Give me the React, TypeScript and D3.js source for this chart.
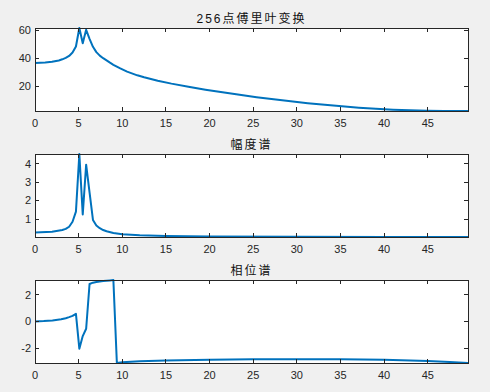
import React from "react";
import * as d3 from "d3";

// 256-point FFT, sampled at 100 Hz -> frequency axis 0 .. 49.61
const xMax = 49.61;
const xTicks = [0, 5, 10, 15, 20, 25, 30, 35, 40, 45];

// panel 1: 256点傅里叶变换
const fftFreq = [
  0, 1.17, 1.95, 2.73, 3.13, 3.52, 3.91, 4.3, 4.69, 5.08, 5.47, 5.86, 6.25,
  6.64, 7.03, 7.42, 7.81, 8.2, 8.59, 8.98, 9.77, 10.55, 11.72, 12.5, 14.06,
  15.63, 17.58, 19.53, 21.48, 23.44, 25.39, 27.34, 29.3, 31.25, 33.2, 35.16,
  37.11, 39.06, 41.02, 42.97, 44.92, 46.88, 49.61,
];
const fftVals = [
  36.8, 37.1, 37.6, 38.6, 39.4, 40.4, 41.8, 44.2, 48.5, 61.7, 50.8, 60.4, 54,
  48.3, 44.5, 42, 40.2, 38.6, 37, 35.5, 32.9, 30.6, 28.0, 26.6, 24.2, 22.1,
  19.9, 17.8, 15.9, 14.1, 12.4, 10.9, 9.5, 8.2, 7.0, 5.9, 4.95, 4.15, 3.5,
  3.05, 2.78, 2.65, 2.6,
];
const fftTicks = [20, 40, 60];

// panel 2: 幅度谱
const ampFreq = [
  0, 1.95, 3.13, 3.52, 3.91, 4.3, 4.69, 5.08, 5.47, 5.86, 6.25, 6.64, 7.03,
  7.42, 7.81, 8.2, 8.98, 10, 12, 15, 20, 30, 40, 49.61,
];
const ampVals = [
  0.27, 0.31, 0.4, 0.46, 0.58, 0.85, 1.4, 4.54, 1.25, 3.96, 2.45, 0.95, 0.65,
  0.5, 0.4, 0.33, 0.24, 0.17, 0.11, 0.07, 0.045, 0.03, 0.025, 0.02,
];
const ampTicks = [1, 2, 3, 4];

// panel 3: 相位谱
const phaseFreq = [
  0, 1, 2, 3, 3.52, 3.91, 4.3, 4.69, 5.08, 5.47, 5.86, 6.25, 6.64, 7.03, 7.81,
  8.59, 8.98, 9.38, 10, 12, 15, 20, 25, 30, 35, 40, 45, 47.5, 49.61,
];
const phaseVals = [
  0, 0.03, 0.08, 0.17, 0.25, 0.33, 0.42, 0.58, -2.05, -1.1, -0.55, 2.83, 2.93,
  2.98, 3.05, 3.1, 3.13, -3.13, -3.08, -3.0, -2.95, -2.89, -2.85, -2.84, -2.85,
  -2.89, -2.97, -3.05, -3.13,
];
const phaseTicks = [-2, 0, 2];

const W = 490;
const H = 392;
const left = 35;
const right = 468;
const plotH = 83;
const tickLen = 4;
const axisColor = "#262626";
const lineColor = "#0072BD";
const font = "'Liberation Sans', Arial, 'Noto Sans CJK SC', sans-serif";

const Panel = ({ id, title, top, freqs, values, yTicks }) => {
  const bottom = top + plotH;
  const x = d3.scaleLinear().domain([0, xMax]).range([left, right]);
  const y = d3.scaleLinear().domain(d3.extent(values)).range([bottom, top]);
  const line = d3
    .line()
    .x((d) => x(d[0]))
    .y((d) => y(d[1]));
  const pts = freqs.map((f, i) => [f, values[i]]);

  return (
    <g>
      <defs>
        <clipPath id={"clip" + id}>
          <rect x={left} y={top - 1} width={right - left} height={plotH + 2} />
        </clipPath>
      </defs>
      <rect x={left} y={top} width={right - left} height={plotH} fill="#fff" />
      <path
        d={line(pts)}
        fill="none"
        stroke={lineColor}
        strokeWidth={2}
        strokeLinejoin="round"
        clipPath={`url(#clip${id})`}
      />
      <g stroke={axisColor} strokeWidth={1} shapeRendering="crispEdges">
        {xTicks.map((t) => (
          <g key={"x" + t}>
            <line x1={x(t)} x2={x(t)} y1={bottom} y2={bottom - tickLen} />
            <line x1={x(t)} x2={x(t)} y1={top} y2={top + tickLen} />
          </g>
        ))}
        {yTicks.map((t) => (
          <g key={"y" + t}>
            <line x1={left} x2={left + tickLen} y1={y(t)} y2={y(t)} />
            <line x1={right} x2={right - tickLen} y1={y(t)} y2={y(t)} />
          </g>
        ))}
        <rect
          x={left}
          y={top}
          width={right - left}
          height={plotH}
          fill="none"
        />
      </g>
      <g fontFamily={font} fontSize={11} fill={axisColor}>
        {xTicks.map((t) => (
          <text key={"xl" + t} x={x(t)} y={bottom + 16} textAnchor="middle">
            {t}
          </text>
        ))}
        {yTicks.map((t) => (
          <text
            key={"yl" + t}
            x={left - 4}
            y={y(t)}
            dy="0.35em"
            textAnchor="end"
          >
            {t}
          </text>
        ))}
      </g>
      <text
        x={(left + right) / 2}
        y={top - 5}
        textAnchor="middle"
        fontFamily={font}
        fontSize={12}
        letterSpacing={2}
        fill="#111"
      >
        {title}
      </text>
    </g>
  );
};

export default function App() {
  return (
    <div style={{ position: "fixed", left: 0, top: 0 }}>
      <svg width={W} height={H} style={{ display: "block", background: "#f0f0f0" }}>
        <Panel
          id="a"
          title="256点傅里叶变换"
          top={28}
          freqs={fftFreq}
          values={fftVals}
          yTicks={fftTicks}
        />
        <Panel
          id="b"
          title="幅度谱"
          top={154}
          freqs={ampFreq}
          values={ampVals}
          yTicks={ampTicks}
        />
        <Panel
          id="c"
          title="相位谱"
          top={280}
          freqs={phaseFreq}
          values={phaseVals}
          yTicks={phaseTicks}
        />
      </svg>
    </div>
  );
}
